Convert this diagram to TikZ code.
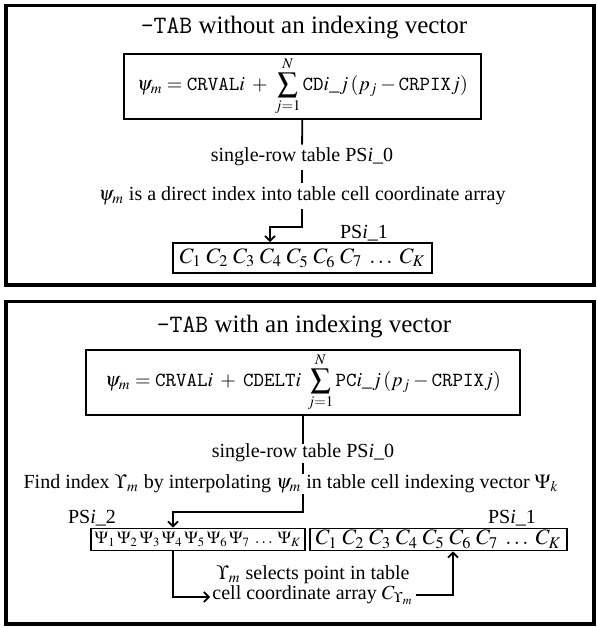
\documentclass[tikz,border=0pt]{standalone}
\usepackage{mathptmx}
\usepackage{fontspec}
\setmainfont{Liberation Serif}
\usetikzlibrary{arrows.meta}
\begin{document}
\begin{tikzpicture}[x=0.5pt,y=-0.5pt,
				every node/.style={font=\fontsize{10}{12}\selectfont,inner sep=1.5pt},
				heading/.style={font=\fontsize{12.5}{15}\selectfont},
				eqbox/.style={draw,line width=0.8pt,minimum height=32.5pt},
				rowbox/.style={draw,line width=0.8pt,inner sep=0.5pt},
				frame/.style={line width=1.8pt},
				>={Straight Barb[length=2.5pt,width=5pt]}]
\useasboundingbox (0,0) rectangle (597,628);
\draw[frame] (6,5.5) rectangle (594,285);
\draw[frame] (6,301.5) rectangle (594,624);
\node[heading] (tabA) at (304,28) {\texttt{-TAB} without an indexing vector};
\node[eqbox,minimum width=178.5pt] (eqA) at (302.5,86.5)
	{$\displaystyle \psi_m = \texttt{CRVAL}i \;+\; \sum_{j=1}^{N}\texttt{CD}i\mbox{\_}j\,(p_j - \texttt{CRPIX}j)$};
\node (rowA) at (302,157) {single-row table PS\textit{i}\_0};
\node (dirA) at (302,196) {$\psi_m$ is a direct index into table cell coordinate array};
\node (psA) at (364,233) {PS\textit{i}\_1};
\node[rowbox,minimum width=129.5pt,minimum height=15pt,font=\fontsize{11}{13}\selectfont] (cA) at (302.5,258)
	{$C_1\hspace{2.3pt}C_2\hspace{2.3pt}C_3\hspace{2.3pt}C_4\hspace{2.3pt}C_5\hspace{2.3pt}C_6\hspace{2.3pt}C_7\hspace{2.3pt}\ldots\hspace{2.3pt}C_K$};
\coordinate (kA) at (270,227);
\draw[line width=0.9pt] (eqA) -- (rowA);
\draw[line width=0.9pt] (rowA) -- (dirA);
\draw[line width=0.9pt,->] (dirA.south) |- (kA) -- (kA |- cA.north);
\node[heading] (tabB) at (304,327) {\texttt{-TAB} with an indexing vector};
\node[eqbox,minimum width=217pt] (eqB) at (303,382.5)
	{$\displaystyle \psi_m = \texttt{CRVAL}i \;+\; \texttt{CDELT}i\;\sum_{j=1}^{N}\texttt{PC}i\mbox{\_}j\,(p_j - \texttt{CRPIX}j)$};
\node[inner sep=0pt] (rowB) at (303,453) {single-row table PS\textit{i}\_0};
\node[inner sep=0pt] (findB) at (291,484) {Find index $\Upsilon_m$ by interpolating $\psi_m$ in table cell indexing vector $\Psi_k$};
\node (ps2B) at (92,518) {PS\textit{i}\_2};
\node (ps1B) at (512,518) {PS\textit{i}\_1};
\node[rowbox,minimum width=107pt,minimum height=11pt,font=\fontsize{8.5}{10}\selectfont] (psiB) at (198,539.5)
	{$\Psi_1\hspace{0.8pt}\Psi_2\hspace{0.8pt}\Psi_3\hspace{0.8pt}\Psi_4\hspace{0.8pt}\Psi_5\hspace{0.8pt}\Psi_6\hspace{0.8pt}\Psi_7\hspace{1.5pt}\ldots\hspace{1.5pt}\Psi_K$};
\node[rowbox,minimum width=128.5pt,minimum height=11pt,font=\fontsize{11}{13}\selectfont] (cB) at (438.5,539.5)
	{$C_1\hspace{2.3pt}C_2\hspace{2.3pt}C_3\hspace{2.3pt}C_4\hspace{2.3pt}C_5\hspace{2.3pt}C_6\hspace{2.3pt}C_7\hspace{2.3pt}\ldots\hspace{2.3pt}C_K$};
\node[align=center,inner sep=1pt] (selB) at (313,585)
	{$\Upsilon_m$ selects point in table\\[-2pt] cell coordinate array $C_{\Upsilon_m}$};
\coordinate (kB) at (173,512);
\coordinate (dB) at (173,597);
\coordinate (eB) at (453,595);
\draw[line width=0.9pt] (eqB) -- (rowB);
\draw[line width=0.9pt] (rowB) -- (findB.north -| rowB);
\draw[line width=0.9pt,->] (findB.south -| rowB) |- (kB) -- (kB |- psiB.north);
\draw[line width=0.9pt,->] (kB |- psiB.south) |- (dB -| selB.west);
\draw[line width=0.9pt,->] (eB -| selB.east) -| (eB |- cB.south);
\end{tikzpicture}
\end{document}
